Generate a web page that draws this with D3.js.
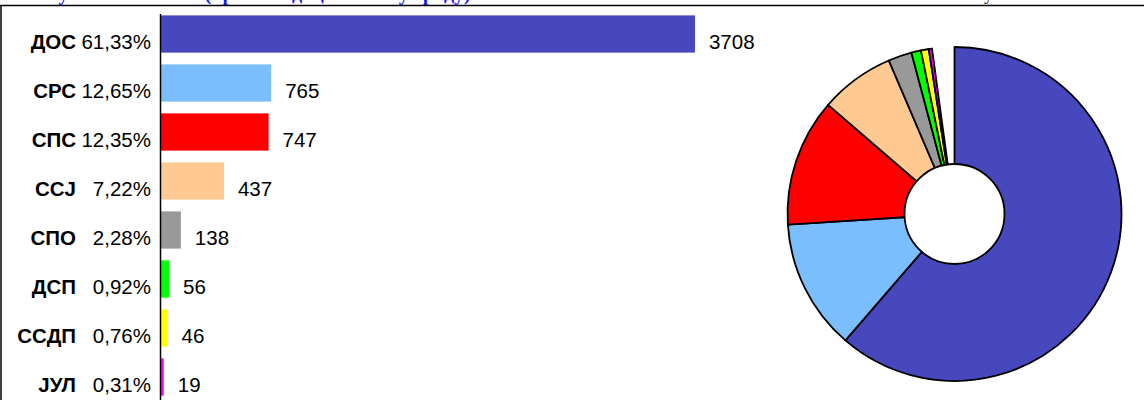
<!DOCTYPE html>
<html>
<head>
<meta charset="utf-8">
<script src="https://cdn.jsdelivr.net/npm/d3@7"></script>
<style>
  html, body { margin: 0; padding: 0; background: #fff; }
  svg { display: block; }
</style>
</head>
<body>
<svg id="chart" width="1144" height="400"></svg>
<script>
// ---- data ----
const parties = ["ДОС", "СРС", "СПС", "ССЈ", "СПО", "ДСП", "ССДП", "ЈУЛ"];
const votes = [3708, 765, 747, 437, 138, 56, 46, 19];
const percentLabels = ["61,33%", "12,65%", "12,35%", "7,22%", "2,28%", "0,92%", "0,76%", "0,31%"];
const colors = ["#4747BE", "#7ABEFF", "#FF0000", "#FFCA92", "#999999", "#00FF00", "#FFFF00", "#FF00FF"];
const totalVotes = 6046;
const titleText = "Резултати гласања (према подацима ИК у граду)";
const noteText = "Укупно гласова: 6046";

const svg = d3.select("#chart");
const font = "'Liberation Sans', Arial, sans-serif";

// ---- frame & cut-off title ----
svg.append("text")
  .attr("x", 30).attr("y", 0)
  .attr("font-family", "'Liberation Serif', 'Times New Roman', serif")
  .attr("font-weight", "bold").attr("font-size", 20)
  .attr("fill", "#1a1aff")
  .text(titleText);
svg.append("text")
  .attr("x", 1128).attr("y", 0)
  .attr("text-anchor", "end")
  .attr("font-family", "'Liberation Serif', 'Times New Roman', serif")
  .attr("font-size", 18)
  .attr("fill", "#333")
  .text(noteText);
svg.append("line").attr("x1", 0).attr("x2", 1144).attr("y1", 5.5).attr("y2", 5.5)
  .attr("stroke", "#000").attr("stroke-width", 1.5);
svg.append("line").attr("x1", 1).attr("x2", 1).attr("y1", 5).attr("y2", 400)
  .attr("stroke", "#000").attr("stroke-width", 1.5);

// ---- bar chart ----
const y = d3.scaleBand().domain(parties).range([9.5, 401.5])
  .paddingInner(0.24).paddingOuter(0.12);
const x = d3.scaleLinear().domain([0, 4000]).range([161, 737]);

svg.selectAll("rect.bar").data(parties).join("rect")
  .attr("class", "bar")
  .attr("x", x(0))
  .attr("y", d => y(d))
  .attr("width", (d, i) => x(votes[i]) - x(0))
  .attr("height", y.bandwidth())
  .attr("fill", (d, i) => colors[i]);

const axis = d3.axisLeft(y).tickSize(0).tickFormat("");
svg.append("g").attr("transform", `translate(${x(0) - 0.5},0)`).call(axis)
  .call(g => g.select(".domain").attr("stroke", "#000").attr("stroke-width", 1.5)
    .attr("d", `M0,14V400`));

const baseOff = d => y(d) + y.bandwidth() / 2 + 14.5;

svg.selectAll("text.name").data(parties).join("text")
  .attr("class", "name")
  .attr("x", 76).attr("y", baseOff)
  .attr("text-anchor", "end")
  .attr("font-family", font).attr("font-weight", "bold").attr("font-size", 20.5)
  .attr("fill", "#000")
  .text(d => d);

svg.selectAll("text.pct").data(parties).join("text")
  .attr("class", "pct")
  .attr("x", 151).attr("y", baseOff)
  .attr("text-anchor", "end")
  .attr("font-family", font).attr("font-size", 20.5)
  .attr("fill", "#000")
  .text((d, i) => percentLabels[i]);

svg.selectAll("text.val").data(parties).join("text")
  .attr("class", "val")
  .attr("x", (d, i) => x(votes[i]) + 14).attr("y", baseOff)
  .attr("font-family", font).attr("font-size", 20.5)
  .attr("fill", "#000")
  .text((d, i) => votes[i]);

// ---- pie / doughnut ----
const cx = 954.5, cy = 214, R = 167, rHole = 50;
const pieData = votes.map((v, i) => ({ name: parties[i], value: v, color: colors[i] }));
pieData.push({ name: "", value: totalVotes - d3.sum(votes), color: null });
const pie = d3.pie().sort(null).value(d => d.value);
const arc = d3.arc().innerRadius(0).outerRadius(R);
const g = svg.append("g").attr("transform", `translate(${cx},${cy})`);
g.selectAll("path").data(pie(pieData).filter(d => d.data.color)).join("path")
  .attr("d", arc)
  .attr("fill", d => d.data.color)
  .attr("stroke", "#000").attr("stroke-width", 1.8)
  .attr("stroke-linejoin", "round");
g.append("circle").attr("r", rHole)
  .attr("fill", "#fff").attr("stroke", "#000").attr("stroke-width", 1.8);
</script>
</body>
</html>
